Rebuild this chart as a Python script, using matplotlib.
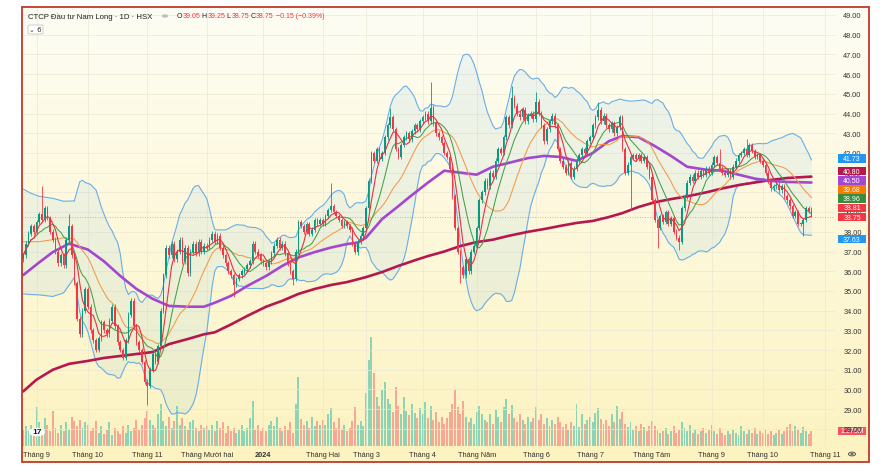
import numpy as np
import pandas as pd
import matplotlib
matplotlib.use("Agg")
import matplotlib.pyplot as plt
from matplotlib.patches import Rectangle, FancyBboxPatch
import matplotlib.transforms as mtransforms

plt.rcParams['font.family'] = ['Liberation Sans', 'DejaVu Sans']

# ---------------- data (daily closes) ----------------
close_aug23 = [36.8, 37.4, 37.9, 38.3, 38.0]
close_sep23 = [38.5, 38.9, 38.6, 39.2, 38.7, 38.0, 37.6, 37.0, 36.4, 36.8, 36.3, 37.6, 38.3, 36.8, 35.4, 33.6, 32.8, 34.0, 35.1]
close_oct23 = [34.2, 33.0, 32.5, 32.0, 32.6, 33.4, 33.0, 32.8, 33.5, 34.2, 33.2, 32.4, 32.0, 31.6, 32.5, 33.8, 34.5, 33.2, 32.4, 32.0, 31.4, 30.4]
close_nov23 = [30.2, 31.0, 31.8, 31.4, 32.2, 34.0, 35.8, 37.2, 36.8, 37.4, 36.6, 37.0, 37.6, 36.5, 37.2, 35.9, 37.0, 37.4, 36.9, 37.5, 37.0, 37.3]
close_dec23 = [37.2, 37.6, 37.9, 37.5, 37.8, 37.2, 36.8, 36.4, 36.0, 35.8, 35.3, 35.6, 35.8, 36.0, 36.1, 36.3, 36.5, 37.4, 37.0, 36.8, 36.5]
close_jan24 = [36.4, 36.2, 36.5, 36.9, 37.3, 37.6, 37.2, 37.4, 36.9, 36.4, 36.0, 35.6, 37.0, 38.5, 38.3, 38.0, 38.4, 37.9, 38.1, 38.6, 38.4, 38.6]
close_feb24 = [38.4, 38.8, 39.1, 39.3, 39.0, 38.8, 38.6, 38.3, 38.5, 38.3, 38.1, 37.4, 37.0, 37.5, 37.8, 38.2]
close_mar24 = [39.2, 40.6, 42.0, 41.6, 42.2, 41.7, 42.0, 42.8, 43.4, 43.8, 43.2, 42.2, 41.8, 42.4, 42.8, 43.0, 42.7, 43.1, 43.4, 43.2, 43.6]
close_apr24 = [43.8, 44.0, 43.6, 44.3, 43.5, 43.0, 42.8, 42.5, 42.0, 41.8, 41.2, 39.8, 38.2, 37.0, 36.2, 35.8, 36.6, 36.0, 37.0, 37.3]
close_may24 = [38.2, 39.6, 40.0, 40.6, 40.3, 41.0, 40.8, 41.6, 42.2, 42.0, 42.8, 43.8, 43.4, 44.8, 44.4, 44.0, 43.8, 44.2, 43.6, 43.9, 44.0, 43.7]
close_jun24 = [44.6, 44.0, 43.4, 42.6, 43.2, 43.6, 43.9, 43.4, 42.2, 41.6, 41.3, 41.0, 41.5, 40.8, 41.2, 41.6, 41.9, 42.2, 42.0, 42.6]
close_jul24 = [42.8, 43.4, 43.8, 44.2, 43.6, 43.9, 43.4, 43.2, 43.5, 43.0, 43.3, 43.8, 42.2, 41.0, 41.4, 41.8, 41.9, 41.7, 41.9, 41.6, 41.8, 41.3, 40.8]
close_aug24 = [39.6, 38.6, 38.2, 38.8, 38.5, 39.0, 38.4, 38.7, 38.0, 37.7, 37.5, 39.2, 39.8, 40.5, 40.8, 40.6, 41.0, 40.8, 41.1, 40.9, 41.2, 41.0]
close_sep24 = [41.4, 41.8, 41.5, 41.2, 41.0, 40.9, 41.1, 40.8, 41.3, 41.6, 41.9, 42.0, 42.2, 41.9, 42.4, 42.1, 41.8, 41.9, 41.6]
close_oct24 = [41.4, 41.0, 40.6, 40.2, 40.3, 40.4, 40.1, 40.3, 39.8, 39.6, 39.3, 38.8, 39.0, 38.4, 38.4, 38.6, 39.2, 39.05, 38.75]
first_open = 36.6

# notable wick extremes (candle index -> price)
wick_high_idx = [7, 17, 114, 136, 151, 181, 190, 213, 258, 268]
wick_high_val = [40.3, 38.9, 40.5, 44.3, 45.6, 45.4, 45.1, 44.6, 42.2, 42.7]
wick_low_idx = [46, 78, 100, 124, 162, 225, 235, 243, 289]
wick_low_val = [29.2, 34.7, 35.3, 36.8, 35.4, 39.1, 37.2, 37.1, 37.8]

# Bollinger band / MA20 at the left edge (before 20 visible candles exist)
bb_head_idx = [0, 3, 6, 11, 15, 19]
bb_head_upper = [40.17, 39.95, 39.8, 39.7, 39.55, 39.57]
bb_head_lower = [34.85, 34.82, 34.8, 34.72, 34.9, 35.68]
ma20_head_val = [37.5, 37.5, 37.5, 37.6, 37.7, 37.63]

# volume (millions)
vol_aug23 = [1.4, 1.7, 1.3, 1.8, 1.5]
vol_sep23 = [3.3, 2.0, 1.4, 2.4, 1.8, 1.3, 3.0, 1.5, 1.1, 1.8, 1.3, 2.0, 1.4, 2.5, 2.1, 1.7, 2.2, 1.5, 2.0]
vol_oct23 = [1.8, 1.3, 1.5, 2.1, 1.1, 1.7, 1.0, 1.4, 2.0, 0.9, 1.5, 1.3, 1.0, 1.7, 1.1, 1.8, 1.3, 1.5, 2.2, 1.4, 1.8, 2.4]
vol_nov23 = [3.0, 2.2, 1.8, 1.5, 2.7, 3.6, 2.1, 1.7, 2.5, 1.5, 2.1, 3.4, 1.8, 2.4, 1.7, 1.4, 2.0, 2.2, 1.5, 1.3, 1.8, 1.5]
vol_dec23 = [1.7, 1.4, 1.8, 1.3, 2.1, 1.5, 2.0, 1.1, 1.7, 1.3, 1.5, 1.1, 1.4, 1.8, 1.3, 1.5, 2.4, 3.8, 1.4, 1.8, 1.3]
vol_jan24 = [1.5, 1.3, 1.8, 2.1, 1.7, 2.5, 1.5, 1.3, 1.7, 1.4, 2.0, 1.1, 3.6, 5.9, 2.3, 1.8, 2.1, 1.5, 2.5, 1.7, 2.1, 1.8]
vol_feb24 = [2.2, 1.8, 2.7, 3.2, 2.0, 1.5, 2.4, 1.4, 1.8, 1.3, 1.5, 2.1, 3.3, 1.8, 2.1, 1.7]
vol_mar24 = [4.5, 7.3, 9.3, 6.2, 4.2, 3.4, 4.8, 5.4, 4.0, 3.6, 2.9, 5.0, 3.4, 2.7, 4.2, 3.0, 2.6, 3.6, 2.8, 2.4, 3.2]
vol_apr24 = [2.7, 3.7, 2.4, 3.4, 2.2, 2.9, 2.0, 2.5, 1.9, 2.4, 2.9, 3.6, 4.8, 3.3, 2.7, 3.8, 2.5, 2.0, 2.4, 1.9]
vol_may24 = [2.9, 3.4, 2.7, 2.2, 2.0, 2.7, 1.9, 3.1, 2.5, 2.0, 3.3, 4.0, 2.7, 3.5, 2.4, 2.0, 2.7, 2.2, 1.9, 2.5, 2.0, 2.4]
vol_jun24 = [3.3, 2.2, 2.7, 1.9, 2.4, 1.7, 2.2, 1.9, 2.5, 2.0, 1.6, 1.9, 1.4, 2.0, 1.7, 3.6, 1.6, 2.7, 1.9, 2.2]
vol_jul24 = [2.5, 2.0, 2.8, 3.2, 2.3, 1.9, 2.2, 1.7, 2.7, 2.0, 3.4, 2.3, 2.9, 1.9, 1.6, 2.0, 1.4, 1.7, 1.3, 1.9, 1.6, 1.3, 1.7]
vol_aug24 = [2.1, 1.7, 1.4, 1.1, 1.3, 1.5, 1.0, 1.3, 1.7, 1.1, 1.4, 2.0, 1.5, 1.3, 1.8, 1.1, 1.4, 1.0, 1.3, 1.5, 1.1, 1.4]
vol_sep24 = [1.8, 1.3, 1.0, 1.5, 1.1, 0.9, 1.3, 1.0, 1.4, 1.1, 0.9, 1.7, 1.3, 1.0, 1.4, 1.1, 1.5, 1.0, 1.3]
vol_oct24 = [1.1, 1.4, 1.0, 1.3, 0.9, 1.1, 1.4, 1.0, 1.3, 1.6, 1.9, 1.3, 1.7, 1.4, 1.1, 1.6, 1.3, 1.0, 1.276]

# MA50 (purple) and MA200 (crimson), read at candle indices
ma50_idx = [0, 6, 11, 17, 24, 30, 36, 42, 48, 54, 61, 67, 71, 77, 83, 90, 96, 102, 108, 114, 120, 124, 127,
            133, 139, 143, 150, 156, 162, 168, 174, 180, 187, 193, 199, 205, 211, 217, 222, 228, 234, 240,
            246, 253, 259, 265, 271, 277, 283, 292]
ma50_val = [35.8, 36.45, 36.97, 37.4, 37.1, 36.5, 35.76, 35.1, 34.6, 34.24, 34.2, 34.2, 34.4, 34.75, 35.25,
            35.76, 36.27, 36.7, 36.97, 37.2, 37.38, 37.45, 37.7, 38.65, 39.3, 39.75, 40.5, 41.1, 41.0, 40.9,
            41.3, 41.5, 41.74, 41.85, 41.8, 41.6, 42.0, 42.6, 42.86, 42.8, 42.35, 41.85, 41.3, 41.15, 41.1,
            40.9, 40.7, 40.58, 40.53, 40.5]
ma200_idx = [0, 5, 11, 17, 24, 30, 36, 42, 48, 54, 61, 67, 71, 77, 83, 90, 96, 102, 108, 114, 120, 127, 133,
             139, 145, 150, 156, 162, 168, 174, 180, 187, 193, 199, 205, 211, 217, 222, 228, 234, 240, 246,
             253, 259, 265, 271, 277, 283, 292]
ma200_val = [29.9, 30.5, 31.0, 31.3, 31.45, 31.6, 31.7, 31.8, 31.9, 32.3, 32.56, 32.8, 32.9, 33.3, 33.73,
             34.2, 34.5, 34.85, 35.1, 35.3, 35.45, 35.7, 35.96, 36.27, 36.55, 36.77, 37.0, 37.28, 37.48, 37.6,
             37.8, 38.0, 38.14, 38.3, 38.45, 38.55, 38.75, 38.95, 39.26, 39.5, 39.66, 39.8, 40.0, 40.2, 40.37,
             40.5, 40.63, 40.73, 40.8]

month_labels = ["Tháng 9", "Tháng 10", "Tháng 11", "Tháng Mười hai", "2024", "Tháng Hai", "Tháng 3",
                "Tháng 4", "Tháng Năm", "Tháng 6", "Tháng 7", "Tháng Tám", "Tháng 9", "Tháng 10", "Tháng 11"]
month_trading_days = [19, 22, 22, 21, 22, 16, 21, 20, 22, 20, 23, 22, 19, 23]
days_before_first_month = 5

last_ohlc = (39.05, 39.25, 38.75, 38.75)
last_change, last_change_pct = -0.15, -0.39
# last values shown in the right-hand labels
label_values = [41.73, 40.80, 40.50, 39.68, 38.96, 38.81, 38.75]
label_colors = ["#2196f3", "#b5174e", "#a447cf", "#f57c00", "#388e3c", "#f23645", "#f23645"]
bb_lo_label = 37.63
vol_label = "1.276M"

# ---------------- assemble ----------------
closes = np.array(close_aug23 + close_sep23 + close_oct23 + close_nov23 + close_dec23 + close_jan24 +
                  close_feb24 + close_mar24 + close_apr24 + close_may24 + close_jun24 + close_jul24 +
                  close_aug24 + close_sep24 + close_oct24)
vols = np.array(vol_aug23 + vol_sep23 + vol_oct23 + vol_nov23 + vol_dec23 + vol_jan24 + vol_feb24 +
                vol_mar24 + vol_apr24 + vol_may24 + vol_jun24 + vol_jul24 + vol_aug24 + vol_sep24 + vol_oct24)
n = min(len(closes), len(vols))
closes = closes[:n]; vols = vols[:n]
idx = np.arange(n)
opens = np.r_[first_open, closes[:-1]]
opens[-1] = last_ohlc[0]
highs = np.maximum(opens, closes) + 0.12
lows = np.minimum(opens, closes) - 0.12
for i, v in zip(wick_high_idx, wick_high_val):
    if i < n: highs[i] = max(highs[i], v)
for i, v in zip(wick_low_idx, wick_low_val):
    if i < n: lows[i] = min(lows[i], v)
highs[-1] = last_ohlc[1]; lows[-1] = last_ohlc[2]
up = closes >= opens

s = pd.Series(closes)
ma5 = s.rolling(5, min_periods=1).mean()
ma10 = s.rolling(10, min_periods=1).mean()
ma20 = s.rolling(20).mean()
sd20 = s.rolling(20).std(ddof=0)
bb_up = ma20 + 2 * sd20
bb_lo = ma20 - 2 * sd20
full = idx >= 19

month_pos = days_before_first_month + np.r_[0, np.cumsum(month_trading_days)]

# ---------------- figure layout (pixel based) ----------------
W, H = 884, 477
fig = plt.figure(figsize=(W / 100, H / 100), dpi=100)
fig.patch.set_facecolor("white")

def fx(px): return px / W
def fy(py): return 1 - py / H

frame_l, frame_t, frame_r, frame_b = 22, 8, 869, 463
plot_r, plot_b = 835, 447
px_per_unit = 19.71

# background gradient
bg = fig.add_axes([fx(frame_l), fy(frame_b), fx(frame_r - frame_l), (frame_b - frame_t) / H])
grad = np.linspace(0, 1, 256).reshape(-1, 1)
top_c = np.array([0xfe, 0xfd, 0xf4]) / 255
bot_c = np.array([0xfc, 0xf3, 0xc0]) / 255
img = top_c[None, None, :] * (1 - grad[:, :, None]) + bot_c[None, None, :] * grad[:, :, None]
bg.imshow(img, aspect="auto", extent=[0, 1, 0, 1], origin="upper")
bg.set_axis_off()

xlim = (-0.4, (plot_r - 23) / 2.7)
ylo = 49 - (plot_b - 16) / px_per_unit
yhi = 49 + (16 - frame_t) / px_per_unit

# volume pane
vol_h_px = 130
axv = fig.add_axes([fx(frame_l), fy(plot_b), fx(plot_r - frame_l), vol_h_px / H])
axv.set_facecolor("none")
vcol = np.where(up, "#8dd3b4", "#f6a894")
axv.bar(idx, vols, width=0.72, color=vcol, linewidth=0)
axv.set_xlim(*xlim)
vol_per_px = 0.085
axv.set_ylim(0, vol_h_px * vol_per_px)
axv.set_axis_off()

# main pane
ax = fig.add_axes([fx(frame_l), fy(plot_b), fx(plot_r - frame_l), (plot_b - frame_t) / H])
ax.set_facecolor("none")
ax.set_xlim(*xlim)
ax.set_ylim(ylo, yhi)
for sp in ax.spines.values():
    sp.set_visible(False)

# grid
for p in range(28, 50):
    ax.axhline(p, color="#ece8d4", lw=0.5, zorder=0)
for m in month_pos:
    ax.axvline(m, color="#ece8d4", lw=0.5, zorder=0)

# Bollinger band
band_c, band_l = "#2196f3", "#6aaee6"
ax.fill_between(bb_head_idx, bb_head_lower, bb_head_upper, color=band_c, alpha=0.07, lw=0, zorder=1)
ax.fill_between(idx[full], bb_lo[full], bb_up[full], color=band_c, alpha=0.07, lw=0, zorder=1)
ax.plot(bb_head_idx, bb_head_upper, color=band_l, lw=0.8, zorder=2)
ax.plot(bb_head_idx, bb_head_lower, color=band_l, lw=0.8, zorder=2)
ax.plot(idx[full], bb_up[full], color=band_l, lw=0.8, zorder=2)
ax.plot(idx[full], bb_lo[full], color=band_l, lw=0.8, zorder=2)

# long MAs
ax.plot(ma200_idx, ma200_val, color="#b5174e", lw=1.9, zorder=3, solid_capstyle="round")
ax.plot(ma50_idx, ma50_val, color="#a447cf", lw=1.9, zorder=3, solid_capstyle="round")
ax.plot(bb_head_idx, ma20_head_val, color="#f39a45", lw=0.75, zorder=3)
ax.plot(idx[full], ma20[full], color="#f39a45", lw=0.75, zorder=3)
ax.plot(idx, ma10, color="#43a047", lw=0.75, zorder=3)

# candles
ccol = np.where(up, "#089981", "#f23645")
ax.vlines(idx, lows, highs, colors=ccol, lw=0.6, zorder=4)
body_b = np.minimum(opens, closes)
body_h = np.maximum(np.abs(closes - opens), 0.05)
ax.bar(idx, body_h, bottom=body_b, width=0.62, color=ccol, linewidth=0, zorder=5)
ax.plot(idx, ma5, color="#e53342", lw=0.8, zorder=6)

# last price line
ax.axhline(last_ohlc[3], color="#f23645", lw=0.6, ls=(0, (1, 2)), alpha=0.6, zorder=2)

# axes ticks
ax.set_xticks(month_pos)
ax.set_xticklabels(month_labels)
ax.tick_params(axis="x", length=0, pad=3.5, labelsize=5.3, labelcolor="#333333")
for lab in ax.get_xticklabels():
    if lab.get_text() == "2024":
        lab.set_fontweight("bold")
ax.yaxis.tick_right()
ax.set_yticks(range(28, 50))
ax.set_yticklabels([f"{p:.2f}" for p in range(28, 50)])
ax.tick_params(axis="y", length=0, pad=6, labelsize=5.3, labelcolor="#333333")

# right-side value labels (stacked upward from the last price so they don't overlap)
plot_w = plot_r - frame_l
box_w_px, box_h_px = 28, 8.6
box_left = (838 - frame_l) / plot_w
lab_x = box_left + box_w_px / 2 / plot_w
tr = mtransforms.blended_transform_factory(ax.transAxes, ax.transData)

def value_tag(axis, trans, y, text, color, unit_per_px):
    h = box_h_px * unit_per_px
    axis.add_patch(Rectangle((box_left, y - h / 2), box_w_px / plot_w, h, transform=trans, fc=color,
                             ec="none", clip_on=False, zorder=9))
    axis.text(lab_x, y, text, transform=trans, ha="center", va="center", fontsize=5.0, color="white",
              clip_on=False, zorder=10)

gap = 9.2 / px_per_unit
order = sorted(zip(label_values, label_colors), key=lambda t: t[0])
prev = None
for v, c in order:
    pos = v if prev is None else max(v, prev + gap)
    prev = pos
    value_tag(ax, tr, pos, f"{v:.2f}", c, 1 / px_per_unit)
value_tag(ax, tr, bb_lo_label, f"{bb_lo_label:.2f}", "#2196f3", 1 / px_per_unit)
vtr = mtransforms.blended_transform_factory(axv.transAxes, axv.transData)
value_tag(axv, vtr, vols[-1], vol_label, "#f7525f", vol_per_px)

# legend / header
fig.text(fx(28), fy(17), "CTCP Đầu tư Nam Long · 1D · HSX", fontsize=5.6, color="#222222", va="center", ha="left")
fig.patches.append(plt.Circle((fx(165), fy(17)), 3.2 / W, transform=fig.transFigure, fc="#b9c3c0", ec="none"))
ohlc_parts = [("O", "#222222"), (f"{last_ohlc[0]:.2f}", "#f23645"), (" H", "#222222"), (f"{last_ohlc[1]:.2f}", "#f23645"),
              (" L", "#222222"), (f"{last_ohlc[2]:.2f}", "#f23645"), (" C", "#222222"), (f"{last_ohlc[3]:.2f}", "#f23645"),
              (f" \u2212{abs(last_change):.2f} (\u2212{abs(last_change_pct):.2f}%)", "#f23645")]
renderer = fig.canvas.get_renderer()
xcur = fx(177)
for txt, c in ohlc_parts:
    t = fig.text(xcur, fy(17), txt, fontsize=5.0, color=c, va="center", ha="left")
    bb = t.get_window_extent(renderer=renderer)
    xcur += bb.width / W
box = FancyBboxPatch((fx(28), fy(35)), 15 / W, 9 / H, boxstyle="round,pad=0,rounding_size=0.002",
                     transform=fig.transFigure, fc="white", ec="#c8c8c8", lw=0.6)
fig.patches.append(box)
fig.text(fx(35.5), fy(30.5), "\u2304 6", fontsize=5, color="#333333", va="center", ha="center",
         family=["DejaVu Sans"])

# TradingView logo + settings icon
fig.patches.append(plt.Circle((fx(37), fy(433)), 8 / W, transform=fig.transFigure, fc="white", ec="none"))
fig.text(fx(37), fy(433), "17", fontsize=6, fontweight="bold", color="#131722", ha="center", va="center")
fig.patches.append(plt.Circle((fx(852), fy(455)), 3.5 / W, transform=fig.transFigure, fc="none", ec="#555555", lw=0.7))
fig.patches.append(plt.Circle((fx(852), fy(455)), 1.2 / W, transform=fig.transFigure, fc="none", ec="#555555", lw=0.6))

# red frame
fig.patches.append(Rectangle((fx(frame_l), fy(frame_b)), fx(frame_r - frame_l), (frame_b - frame_t) / H,
                             transform=fig.transFigure, fill=False, ec="#c0392b", lw=1.3, zorder=20))

fig.savefig("out.png", dpi=100)
